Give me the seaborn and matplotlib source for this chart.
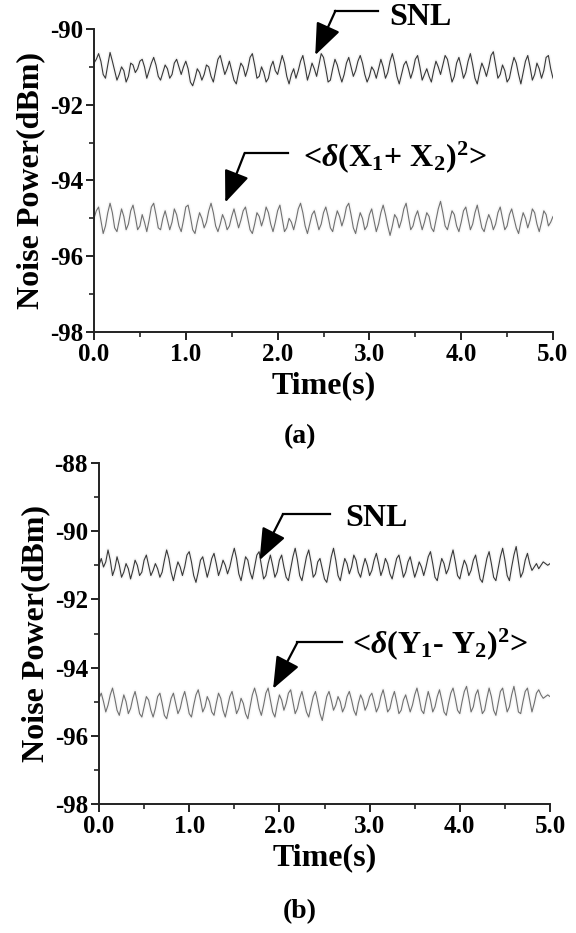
import numpy as np
import pandas as pd
import matplotlib
matplotlib.use("Agg")
import matplotlib.pyplot as plt
from matplotlib.patches import ArrowStyle
from matplotlib.ticker import MultipleLocator
import seaborn as sns

# Sampling times (s) shared by all traces
time_s = np.linspace(0.0, 5.0, 201)

# (a) shot-noise level and amplitude-sum noise power (dBm)
snl_a = [
    -90.90, -90.80, -90.65, -90.85, -91.20, -91.30, -90.95, -90.62, -90.85, -91.10,
    -91.35, -91.20, -91.00, -91.10, -91.40, -91.25, -90.90, -90.95, -91.15, -91.05,
    -90.85, -90.80, -91.00, -91.30, -91.10, -90.90, -90.75, -90.95, -91.25, -91.35,
    -91.15, -90.95, -91.05, -91.30, -91.20, -90.90, -90.80, -91.00, -91.20, -91.00,
    -90.85, -91.05, -91.40, -91.50, -91.30, -91.05, -91.15, -91.35, -91.20, -90.95,
    -91.00, -91.25, -91.40, -91.10, -90.80, -90.70, -90.95, -91.20, -91.05, -90.85,
    -91.10, -91.35, -91.45, -91.15, -90.90, -91.00, -91.25, -91.05, -90.75, -90.65,
    -90.95, -91.30, -91.25, -91.00, -91.15, -91.40, -91.30, -91.00, -90.85, -91.10,
    -91.20, -90.95, -90.70, -90.90, -91.25, -91.45, -91.20, -91.05, -91.30, -91.10,
    -90.85, -90.70, -91.00, -91.35, -91.15, -90.90, -91.05, -91.25, -90.95, -90.65,
    -90.75, -91.05, -91.40, -91.35, -91.05, -90.80, -90.95, -91.20, -91.40, -91.20,
    -90.90, -90.75, -91.00, -91.25, -91.10, -90.85, -90.70, -90.90, -91.20, -91.40,
    -91.25, -91.00, -91.10, -91.30, -91.05, -90.80, -91.00, -91.30, -91.15, -90.85,
    -90.65, -90.90, -91.25, -91.45, -91.20, -90.95, -90.85, -91.05, -91.30, -91.10,
    -90.80, -90.70, -91.00, -91.35, -91.20, -91.05, -91.25, -91.40, -91.10, -90.85,
    -91.00, -91.20, -90.95, -90.70, -90.80, -91.10, -91.40, -91.25, -90.90, -90.75,
    -91.00, -91.30, -91.15, -90.85, -90.65, -90.95, -91.30, -91.45, -91.15, -90.90,
    -91.05, -91.25, -91.00, -90.70, -90.60, -90.95, -91.30, -91.20, -90.95, -91.10,
    -91.40, -91.30, -91.00, -90.75, -90.90, -91.20, -91.45, -91.15, -90.85, -90.70,
    -91.00, -91.35, -91.20, -90.90, -91.05, -91.30, -91.10, -90.75, -90.70, -91.05,
    -91.30,
]
xsum_a = [
    -95.00, -94.80, -94.70, -95.05, -95.40, -95.20, -94.85, -94.60, -94.85, -95.25,
    -95.35, -95.05, -94.75, -94.95, -95.30, -95.15, -94.80, -94.65, -94.95, -95.30,
    -95.20, -94.90, -95.10, -95.35, -95.05, -94.70, -94.60, -94.90, -95.25, -95.30,
    -95.00, -94.80, -95.05, -95.30, -95.10, -94.75, -94.90, -95.20, -95.35, -95.05,
    -94.70, -94.65, -94.95, -95.30, -95.40, -95.10, -94.85, -95.00, -95.25, -95.10,
    -94.80, -94.60, -94.85, -95.20, -95.35, -95.15, -94.90, -95.05, -95.30, -95.20,
    -94.95, -94.75, -95.00, -95.25, -95.05, -94.80, -94.70, -95.00, -95.30, -95.40,
    -95.15, -94.85, -94.95, -95.20, -95.00, -94.70, -94.85, -95.15, -95.35, -95.10,
    -94.80, -94.65, -95.00, -95.35, -95.25, -95.00, -95.10, -95.30, -95.05, -94.75,
    -94.60, -94.85, -95.20, -95.40, -95.15, -94.90, -94.80, -95.05, -95.30, -95.15,
    -94.85, -94.70, -94.95, -95.25, -95.35, -95.05, -94.80, -94.95, -95.20, -95.00,
    -94.70, -94.60, -94.90, -95.25, -95.40, -95.10, -94.85, -95.00, -95.30, -95.20,
    -94.90, -94.75, -95.05, -95.35, -95.15, -94.85, -94.65, -94.90, -95.20, -95.45,
    -95.20, -94.90, -95.00, -95.25, -95.05, -94.75, -94.60, -94.95, -95.30, -95.20,
    -94.95, -94.80, -95.05, -95.30, -95.10, -94.85, -94.95, -95.25, -95.35, -95.05,
    -94.75, -94.55, -94.85, -95.20, -95.30, -95.05, -94.80, -94.90, -95.20, -95.35,
    -95.10, -94.80, -94.70, -95.00, -95.30, -95.15, -94.85, -94.65, -94.95, -95.25,
    -95.35, -95.10, -94.90, -95.05, -95.30, -95.15, -94.85, -94.70, -95.00, -95.30,
    -95.20, -94.90, -94.75, -95.00, -95.25, -95.40, -95.10, -94.85, -95.00, -95.25,
    -95.05, -94.75, -94.85, -95.15, -95.35, -95.10, -94.80, -94.90, -95.20, -95.10,
    -94.95,
]

# (b) shot-noise level and phase-difference noise power (dBm)
snl_b = [
    -91.00, -90.80, -91.05, -90.90, -90.55, -90.85, -91.30, -91.10, -90.75, -91.00,
    -91.35, -91.20, -90.95, -91.10, -91.40, -91.15, -90.85, -91.00, -91.30, -91.20,
    -90.85, -90.70, -91.00, -91.30, -91.15, -90.95, -91.10, -91.35, -91.20, -90.85,
    -90.55, -90.80, -91.20, -91.45, -91.15, -90.90, -91.05, -91.30, -91.05, -90.70,
    -90.60, -90.90, -91.30, -91.50, -91.20, -90.85, -90.75, -91.05, -91.35, -91.10,
    -90.80, -90.65, -90.95, -91.30, -91.10, -90.85, -91.00, -91.25, -91.05, -90.75,
    -90.50, -90.80, -91.25, -91.45, -91.10, -90.75, -90.85, -91.20, -91.40, -91.05,
    -90.70, -90.60, -91.00, -91.40, -91.30, -90.95, -90.70, -91.00, -91.35, -91.20,
    -90.85, -90.70, -91.05, -91.35, -91.45, -91.10, -90.75, -90.50, -90.85, -91.30,
    -91.45, -91.10, -90.75, -90.55, -90.90, -91.35, -91.25, -90.90, -90.80, -91.10,
    -91.40, -91.50, -91.15, -90.75, -90.50, -90.85, -91.30, -91.45, -91.10, -90.80,
    -90.95, -91.25, -91.05, -90.70, -90.85, -91.20, -91.35, -91.05, -90.80, -91.00,
    -91.30, -91.15, -90.85, -90.65, -90.95, -91.30, -91.10, -90.80, -90.95, -91.25,
    -91.40, -91.10, -90.80, -90.70, -91.00, -91.35, -91.20, -90.90, -90.75, -91.05,
    -91.35, -91.15, -90.90, -91.05, -91.30, -91.05, -90.75, -90.60, -90.95, -91.35,
    -91.45, -91.10, -90.80, -90.95, -91.25, -91.10, -90.80, -90.55, -90.90, -91.30,
    -91.40, -91.10, -90.85, -91.00, -91.30, -91.15, -90.85, -90.70, -91.05, -91.40,
    -91.50, -91.15, -90.80, -90.60, -90.95, -91.35, -91.45, -91.10, -90.75, -90.50,
    -90.85, -91.30, -91.45, -91.05, -90.70, -90.45, -90.90, -91.35, -91.20, -90.85,
    -90.65, -90.95, -91.15, -91.05, -90.95, -91.10, -91.00, -90.90, -90.95, -91.00,
    -90.95,
]
ydiff_b = [
    -94.90, -94.75, -95.00, -95.30, -95.10, -94.80, -94.60, -94.90, -95.25, -95.40,
    -95.10, -94.80, -95.00, -95.35, -95.20, -94.90, -94.70, -95.00, -95.35, -95.45,
    -95.15, -94.85, -94.95, -95.25, -95.45, -95.20, -94.85, -94.75, -95.05, -95.40,
    -95.50, -95.20, -94.90, -94.75, -95.05, -95.35, -95.20, -94.90, -94.70, -95.00,
    -95.35, -95.45, -95.10, -94.80, -94.65, -94.95, -95.30, -95.15, -94.85, -95.00,
    -95.30, -95.40, -95.05, -94.75, -94.90, -95.25, -95.45, -95.15, -94.85, -94.70,
    -95.00, -95.35, -95.20, -94.90, -95.05, -95.35, -95.50, -95.15, -94.80, -94.60,
    -94.85, -95.20, -95.40, -95.10, -94.75, -94.60, -94.95, -95.30, -95.45, -95.10,
    -94.80, -94.95, -95.25, -95.05, -94.75, -94.65, -95.00, -95.35, -95.20, -94.90,
    -94.70, -95.00, -95.30, -95.45, -95.15, -94.85, -94.70, -95.00, -95.35, -95.55,
    -95.20, -94.85, -94.70, -94.95, -95.25, -95.10, -94.85, -95.00, -95.30, -95.15,
    -94.85, -94.70, -94.95, -95.25, -95.40, -95.05, -94.80, -94.95, -95.25, -95.10,
    -94.85, -94.75, -95.00, -95.30, -95.15, -94.85, -94.65, -94.95, -95.30, -95.20,
    -94.90, -94.70, -95.00, -95.35, -95.25, -94.95, -94.80, -95.05, -95.30, -95.10,
    -94.80, -94.60, -94.90, -95.25, -95.35, -95.00, -94.70, -94.95, -95.30, -95.15,
    -94.85, -94.65, -94.95, -95.30, -95.40, -95.05, -94.75, -94.60, -94.90, -95.25,
    -95.35, -95.00, -94.70, -94.55, -94.90, -95.30, -95.15, -94.80, -94.65, -95.00,
    -95.35, -95.25, -94.90, -94.60, -94.85, -95.25, -95.40, -95.05, -94.70, -94.60,
    -94.95, -95.30, -95.15, -94.80, -94.55, -94.90, -95.30, -95.35, -95.00, -94.70,
    -94.60, -94.95, -95.30, -95.05, -94.75, -94.65, -94.80, -94.90, -94.85, -94.80,
    -94.85,
]

x_ticks = [0.0, 1.0, 2.0, 3.0, 4.0, 5.0]
x_ticklabels = ["0.0", "1.0", "2.0", "3.0", "4.0", "5.0"]
y_ticks_a = [-98, -96, -94, -92, -90]
y_ticks_b = [-98, -96, -94, -92, -90, -88]

sns.set_style("ticks")
plt.rcParams["font.family"] = ["Liberation Serif", "DejaVu Serif"]
plt.rcParams["font.weight"] = "bold"
plt.rcParams["text.color"] = "black"
plt.rcParams["axes.labelcolor"] = "black"
plt.rcParams["xtick.color"] = "black"
plt.rcParams["ytick.color"] = "black"
plt.rcParams["mathtext.fontset"] = "custom"
plt.rcParams["mathtext.rm"] = "Liberation Serif:bold"
plt.rcParams["mathtext.bf"] = "Liberation Serif:bold"
plt.rcParams["mathtext.it"] = "Liberation Serif:italic:bold"

fig = plt.figure(figsize=(5.76, 9.33), dpi=100)
W, H = 576, 933


def px_axes(left, right, top, bottom):
    return fig.add_axes([left / W, 1 - bottom / H, (right - left) / W, (bottom - top) / H])


ax_a = px_axes(94, 553, 29, 332)
ax_b = px_axes(99, 550, 463, 804)

head = ArrowStyle("-|>", head_length=0.7, head_width=0.28)


def pointer(ax, tip, elbow, end, text, text_xy, size):
    ax.plot([elbow[0], end[0]], [elbow[1], end[1]], color="black", lw=1.6,
            solid_capstyle="projecting", clip_on=False)
    ax.annotate("", xy=tip, xytext=elbow, annotation_clip=False,
                arrowprops=dict(arrowstyle=head, mutation_scale=28, lw=1.6,
                                color="black", shrinkA=0, shrinkB=0))
    ax.text(text_xy[0], text_xy[1], text, fontsize=size, fontweight="bold",
            ha="left", va="center", color="black", clip_on=False)


def style_axes(ax, ylim, yticks):
    ax.set_xlim(0, 5)
    ax.set_ylim(*ylim)
    ax.set_xticks(x_ticks)
    ax.set_xticklabels(x_ticklabels)
    ax.set_yticks(yticks)
    ax.set_yticklabels([str(v) for v in yticks])
    ax.xaxis.set_minor_locator(MultipleLocator(0.5))
    ax.yaxis.set_minor_locator(MultipleLocator(1))
    sns.despine(ax=ax)
    for s in ("left", "bottom"):
        ax.spines[s].set_linewidth(1.4)
        ax.spines[s].set_color("#222222")
    ax.tick_params(which="major", direction="out", length=6, width=1.4,
                   labelsize=18, colors="#222222", labelcolor="black", pad=2)
    ax.tick_params(which="minor", direction="out", length=3.5, width=1.2,
                   colors="#222222")
    for lab in ax.get_xticklabels() + ax.get_yticklabels():
        lab.set_fontweight("bold")
    ax.set_xlabel("Time(s)", fontsize=23, fontweight="bold", labelpad=4)
    ax.set_ylabel("Noise Power(dBm)", fontsize=23, fontweight="bold", labelpad=3)
    ax.set_facecolor("white")


def trace(ax, y, color, halo):
    df = pd.DataFrame({"t": time_s, "p": y})
    sns.lineplot(data=df, x="t", y="p", ax=ax, color=halo, lw=3.0, alpha=0.25)
    sns.lineplot(data=df, x="t", y="p", ax=ax, color=color, lw=0.8)


trace(ax_a, snl_a, "#383838", "#dddddd")
trace(ax_a, xsum_a, "#707070", "#e4e4e4")
style_axes(ax_a, (-98, -90), y_ticks_a)
pointer(ax_a, (2.41, -90.69), (2.63, -89.52), (3.09, -89.52), "SNL", (3.22, -89.70), 23)
pointer(ax_a, (1.43, -94.58), (1.64, -93.28), (2.11, -93.28),
        r"<$\delta$($\mathbf{X_1}$+ $\mathbf{X_2}$)$^\mathbf{2}$>", (2.28, -93.38), 23)

trace(ax_b, snl_b, "#383838", "#dddddd")
trace(ax_b, ydiff_b, "#707070", "#e4e4e4")
style_axes(ax_b, (-98, -88), y_ticks_b)
pointer(ax_b, (1.78, -90.85), (2.04, -89.50), (2.56, -89.50), "SNL", (2.73, -89.62), 23)
pointer(ax_b, (1.93, -94.62), (2.20, -93.26), (2.69, -93.26),
        r"<$\delta$($\mathbf{Y_1}$- $\mathbf{Y_2}$)$^\mathbf{2}$>", (2.80, -93.32), 23)

fig.text(300 / W, 1 - 437 / H, "(a)", fontsize=20, fontweight="bold", ha="center", va="center")
fig.text(300 / W, 1 - 912 / H, "(b)", fontsize=20, fontweight="bold", ha="center", va="center")

fig.savefig("out.png", dpi=100, facecolor="white")
